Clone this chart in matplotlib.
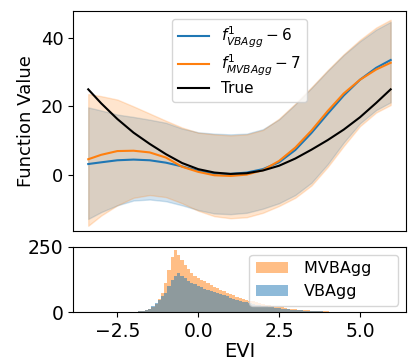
import matplotlib
matplotlib.use('Agg')
import matplotlib.pyplot as plt

# evaluation grid (EVI)
x = [-3.4, -3.0, -2.5, -2.0, -1.5, -1.0, -0.5, 0.0, 0.5, 1.0,
     1.5, 2.0, 2.5, 3.0, 3.5, 4.0, 4.5, 5.0, 5.5, 5.95]

true_f = [25.0, 20.9, 16.3, 12.3, 9.0, 6.0, 3.4, 1.6, 0.6, 0.2,
          0.4, 1.2, 2.6, 4.7, 7.3, 10.1, 13.2, 16.8, 21.0, 25.0]

vb_mean = [3.1, 3.6, 4.2, 4.4, 4.2, 3.5, 2.4, 1.1, 0.3, 0.2,
           0.6, 1.6, 3.6, 7.2, 12.2, 17.8, 23.2, 27.8, 31.3, 33.6]
vb_upper = [19.7, 18.8, 17.6, 16.9, 16.1, 15.2, 13.5, 12.4, 12.0, 11.8,
            12.0, 13.3, 16.2, 20.6, 25.4, 30.4, 35.1, 39.1, 42.5, 44.8]
vb_lower = [-13.0, -11.0, -9.0, -7.6, -7.3, -7.8, -9.0, -10.4, -11.4, -11.6,
            -11.2, -10.0, -8.4, -6.0, -2.4, 3.0, 9.4, 15.0, 18.9, 21.2]

mvb_mean = [4.5, 5.8, 6.9, 7.0, 6.5, 5.0, 2.3, 0.8, -0.2, -0.4,
            0.0, 1.3, 4.0, 7.9, 12.9, 18.6, 23.8, 27.8, 30.8, 32.8]
mvb_upper = [23.6, 23.0, 22.0, 20.0, 17.9, 15.8, 13.8, 12.3, 11.8, 11.5,
             11.8, 13.1, 16.4, 20.8, 25.6, 30.6, 35.3, 39.5, 43.1, 45.4]
mvb_lower = [-15.0, -12.0, -9.0, -6.8, -6.0, -6.6, -8.4, -10.6, -12.2, -12.8,
             -12.5, -11.2, -9.2, -6.8, -3.2, 2.2, 8.4, 14.2, 18.2, 20.4]

# histogram of EVI, bin centres 0.1 apart from -2.5 to 4.5
bin_centers = [round(-2.5 + 0.1 * i, 2) for i in range(71)]
mvb_counts = [0, 0, 0, 0, 1, 1, 2, 3, 5, 7,     # -2.5 .. -1.6
              12, 20, 30, 50, 75, 110, 160, 210, 238, 220,   # -1.5 .. -0.6
              200, 180, 165, 150, 140, 132, 125, 118, 110, 104,  # -0.5 .. 0.4
              98, 92, 86, 80, 74, 69, 64, 59, 54, 50,   # 0.5 .. 1.4
              47, 44, 41, 38, 35, 32, 29, 26, 23, 21,   # 1.5 .. 2.4
              20, 18, 16, 14, 13, 12, 10, 9, 8, 7,      # 2.5 .. 3.4
              6, 5, 5, 4, 3, 3, 2, 2, 1, 1, 1]          # 3.5 .. 4.5
vb_counts = [0, 0, 0, 0, 1, 1, 2, 3, 5, 8,
             14, 22, 35, 48, 60, 75, 100, 125, 140, 148,
             140, 130, 120, 112, 106, 100, 95, 90, 85, 80,
             76, 72, 68, 64, 60, 56, 52, 48, 44, 40,
             38, 35, 32, 29, 26, 24, 22, 20, 18, 17,
             16, 14, 12, 11, 10, 9, 8, 7, 6, 5,
             4, 4, 3, 3, 2, 2, 2, 1, 1, 1, 1]

fig = plt.figure(figsize=(4.15, 3.63), dpi=100)
ax = fig.add_axes([0.176, 0.364, 0.802, 0.606])
ax2 = fig.add_axes([0.176, 0.140, 0.802, 0.180], sharex=ax)

ax.plot(x, vb_mean, color='C0', lw=1.5, label=r'$f^1_{VBAgg} - 6$')
ax.fill_between(x, vb_lower, vb_upper, color='C0', alpha=0.2)
ax.plot(x, mvb_mean, color='C1', lw=1.5, label=r'$f^1_{MVBAgg} - 7$')
ax.fill_between(x, mvb_lower, mvb_upper, color='C1', alpha=0.2)
ax.plot(x, true_f, color='black', lw=1.5, label='True')
ax.set_ylabel('Function Value', fontsize=13)
ax.set_ylim(-16.5, 48)
ax.set_yticks([0, 20, 40])
ax.tick_params(axis='y', labelsize=13)
ax.tick_params(axis='x', bottom=False, labelbottom=False)
ax.legend(loc='upper center', fontsize=11, labelspacing=0.2)

edges = [c - 0.05 for c in bin_centers] + [bin_centers[-1] + 0.05]
ax2.hist(bin_centers, bins=edges, weights=mvb_counts, color='C1', alpha=0.5, label='MVBAgg    ')
ax2.hist(bin_centers, bins=edges, weights=vb_counts, color='C0', alpha=0.5, label='VBAgg')
ax2.set_ylim(0, 250)
ax2.set_yticks([0, 250])
ax2.set_xlim(-3.87, 6.42)
ax2.set_xticks([-2.5, 0.0, 2.5, 5.0])
ax2.tick_params(labelsize=13.5)
ax2.set_xlabel('EVI', fontsize=14, labelpad=1)
ax2.legend(loc='upper right', fontsize=11.5, handletextpad=1.0)

plt.savefig('out.png')
